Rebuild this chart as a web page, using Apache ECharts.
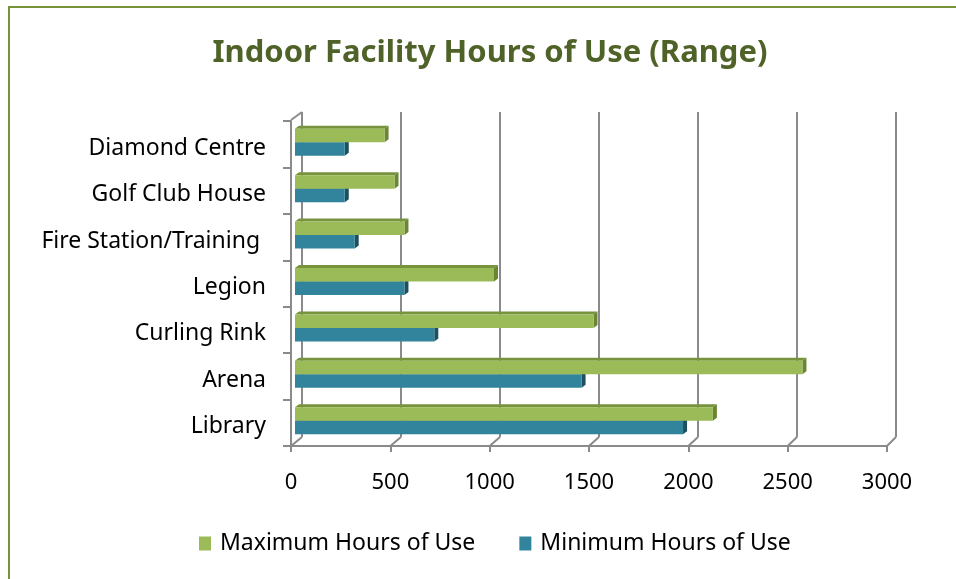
<!DOCTYPE html>
<html lang="en">
<head>
    <meta charset="UTF-8">
    <title>Indoor Facility Hours of Use (Range)</title>
    <script src="https://cdn.jsdelivr.net/npm/echarts@6/dist/echarts.min.js"></script>
    <style>
        html, body { margin: 0; padding: 0; background: #fff; }
        #main { width: 956px; height: 579px; }
    </style>
</head>
<body>
<div id="main"></div>
<script>
    // data, bottom category first (echarts draws category 0 at the bottom)
    var categories = ['Library', 'Arena', 'Curling Rink', 'Legion', 'Fire Station/Training ', 'Golf Club House', 'Diamond Centre'];
    var maxHours = [2100, 2550, 1500, 1000, 550, 500, 450];
    var minHours = [1950, 1440, 700, 550, 300, 250, 250];
    var xTicks = [0, 500, 1000, 1500, 2000, 2500, 3000];

    var W = 956, H = 579;
    // back wall / front floor / bar plane
    var BACK = { left: 302, right: 60, top: 112, bottom: 142 };
    var FRONT = { left: 291, right: 69, top: 121, bottom: 133 };
    var BARS = { left: 295, right: 64, top: 121, bottom: 133 };
    var FONT = '"Noto Sans", sans-serif';
    var GRIDCOL = '#8a8a8a';

    var chart = echarts.init(document.getElementById('main'));

    // 3D-ish bar: front face, top face, right side
    function bar3d(off0, off1, cFront, cTop, cSide) {
        return function (params, api) {
            var cat = api.value(1), val = api.value(0);
            var s = api.coord([0, cat]);
            var e = api.coord([val, cat]);
            var band = api.size([0, 1])[1];
            var y0 = s[1] + off0 * band, y1 = s[1] + off1 * band;
            var x0 = s[0], x1 = e[0];
            var dx = 4, dy = 3;
            return {
                type: 'group',
                children: [
                    { type: 'polygon', shape: { points: [[x0, y0], [x0 + dx, y0 - dy], [x1 + dx, y0 - dy], [x1, y0]] }, style: { fill: cTop } },
                    { type: 'polygon', shape: { points: [[x1, y0], [x1 + dx, y0 - dy], [x1 + dx, y1 - dy], [x1, y1]] }, style: { fill: cSide } },
                    { type: 'rect', shape: { x: x0, y: y0, width: x1 - x0, height: y1 - y0 }, style: { fill: cFront } }
                ]
            };
        };
    }

    var option = {
        backgroundColor: '#fff',
        animation: false,
        title: {
            text: 'Indoor Facility Hours of Use (Range)',
            left: 485,
            textAlign: 'center',
            top: 33,
            textStyle: { fontFamily: FONT, fontSize: 31, fontWeight: 'bold', color: '#4F6228' }
        },
        legend: {
            bottom: 19,
            left: 194,
            icon: 'rect',
            itemWidth: 12,
            itemHeight: 14,
            itemGap: 44,
            data: ['Maximum Hours of Use', 'Minimum Hours of Use'],
            textStyle: { fontFamily: FONT, fontSize: 23, color: '#000', padding: [0, 0, 0, 4] }
        },
        grid: [
            { left: BACK.left, right: BACK.right, top: BACK.top, bottom: BACK.bottom },
            { left: FRONT.left, right: FRONT.right, top: FRONT.top, bottom: FRONT.bottom },
            { left: BARS.left, right: BARS.right, top: BARS.top, bottom: BARS.bottom }
        ],
        xAxis: [
            {   // back wall gridlines
                gridIndex: 0, type: 'value', min: 0, max: 3000, interval: 500,
                axisLine: { show: false }, axisTick: { show: false }, axisLabel: { show: false },
                splitLine: { show: true, lineStyle: { color: GRIDCOL, width: 2 } }
            },
            {   // front axis with labels
                gridIndex: 1, type: 'value', min: 0, max: 3000, interval: 500,
                axisLine: { show: true, lineStyle: { color: GRIDCOL, width: 2 } },
                axisTick: { show: true, length: 6, lineStyle: { color: GRIDCOL, width: 2 } },
                axisLabel: { margin: 26, fontFamily: FONT, fontSize: 22, color: '#000',
                    formatter: function (v) { return xTicks.indexOf(v) >= 0 ? String(v) : ''; } },
                splitLine: { show: false }
            },
            {
                gridIndex: 2, type: 'value', min: 0, max: 3000, show: false
            }
        ],
        yAxis: [
            { gridIndex: 0, type: 'value', min: 0, max: 1, show: false, splitLine: { show: false } },
            {
                gridIndex: 1, type: 'category', data: categories,
                axisLine: { show: true, lineStyle: { color: GRIDCOL, width: 2 } },
                axisTick: { show: true, length: 8, lineStyle: { color: GRIDCOL, width: 2 } },
                axisLabel: {
                    margin: 25, color: '#000',
                    formatter: function (v) { return '{c|' + v + '}'; },
                    rich: { c: { fontFamily: FONT, fontSize: 23, color: '#000', padding: [8, 0, 0, 0] } }
                }
            },
            { gridIndex: 2, type: 'category', data: categories, show: false }
        ],
        series: [
            {
                name: 'Minimum Hours of Use',
                type: 'custom',
                xAxisIndex: 2, yAxisIndex: 2,
                z: 3,
                itemStyle: { color: '#31849B' },
                renderItem: bar3d(-0.043, 0.248, '#31849B', '#215968', '#1d4f5e'),
                data: minHours.map(function (v, i) { return [v, i]; })
            },
            {
                name: 'Maximum Hours of Use',
                type: 'custom',
                xAxisIndex: 2, yAxisIndex: 2,
                z: 4,
                itemStyle: { color: '#9BBB59' },
                renderItem: bar3d(-0.334, -0.043, '#9BBB59', '#77933C', '#6a8534'),
                data: maxHours.map(function (v, i) { return [v, i]; })
            }
        ]
    };
    chart.setOption(option);

    // wall edges: diagonals joining back wall and front floor
    var lines = [];
    var yBackBottom = H - BACK.bottom, yFrontBottom = H - FRONT.bottom;
    xTicks.forEach(function (v) {
        var xb = chart.convertToPixel({ xAxisIndex: 0 }, v);
        var xf = chart.convertToPixel({ xAxisIndex: 1 }, v);
        lines.push({ type: 'line', shape: { x1: xb, y1: yBackBottom, x2: xf, y2: yFrontBottom },
            style: { stroke: GRIDCOL, lineWidth: 2 }, z: 1 });
    });
    var xb0 = chart.convertToPixel({ xAxisIndex: 0 }, 0);
    var xf0 = chart.convertToPixel({ xAxisIndex: 1 }, 0);
    lines.push({ type: 'line', shape: { x1: xb0, y1: BACK.top, x2: xf0, y2: FRONT.top - 1 },
        style: { stroke: GRIDCOL, lineWidth: 2 }, z: 1 });
    // outer chart border
    lines.push({ type: 'rect', shape: { x: 9, y: 7, width: W + 20, height: H + 20 },
        style: { fill: null, stroke: '#77933C', lineWidth: 2 }, z: 0 });
    chart.setOption({ graphic: lines });

    window.onresize = function () { chart.resize(); };
</script>
</body>
</html>
